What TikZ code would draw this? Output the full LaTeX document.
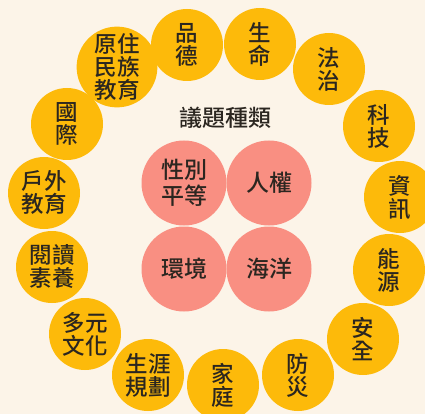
\documentclass[tikz,border=0pt]{standalone}
\usepackage{fontspec}
\setmainfont{Noto Sans CJK TC}[UprightFont=* Medium]
\usepackage{tikz}
\usetikzlibrary{positioning}
\definecolor{paper}{HTML}{FCF4E8}
\definecolor{amber}{HTML}{FDBA0A}
\definecolor{salmon}{HTML}{F98F82}
\definecolor{ink}{HTML}{2B2620}
\tikzset{topic/.style={circle,fill=amber,minimum size=72pt,inner sep=0pt,align=center,text=ink,font=\fontsize{22.5}{23}\selectfont},core/.style={circle,fill=salmon,minimum size=85pt,inner sep=0pt,align=center,text=ink,font=\fontsize{23}{25.5}\selectfont}}

\begin{document}
\begin{tikzpicture}[x=1pt,y=-1pt]
\fill[paper] (0,0) rectangle (425,414);
\useasboundingbox (0,0) rectangle (425,414);
\node[text=ink,font=\fontsize{23}{25}\selectfont] (title) at (225,118) {議題種類};
\foreach \n/\x/\y/\txt in {yuan/117/67/原住\\民族\\教育,pinde/187/45/品\\德,life/260/44/生\\命,law/329/69/法\\治,tech/379/126/科\\技,intl/67/124/國\\際,outdoor/44/193/戶外\\教育,read/52/267/閱讀\\素養,info/400/197/資\\訊,energy/389/270/能\\源,multi/85/334/多元\\文化,career/148/375/生涯\\規劃,family/223/385/家\\庭,disaster/298/375/防\\災,safety/363/339/安\\全}{
  \node[topic] (\n) at (\x,\y) {\txt};
}
\node[core] (gender) at (184,183) {性別\\平等};
\node[core] (rights) at (269,183) {人權};
\node[core] (env) at (184,269) {環境};
\node[core] (ocean) at (269,269) {海洋};
\end{tikzpicture}
\end{document}
